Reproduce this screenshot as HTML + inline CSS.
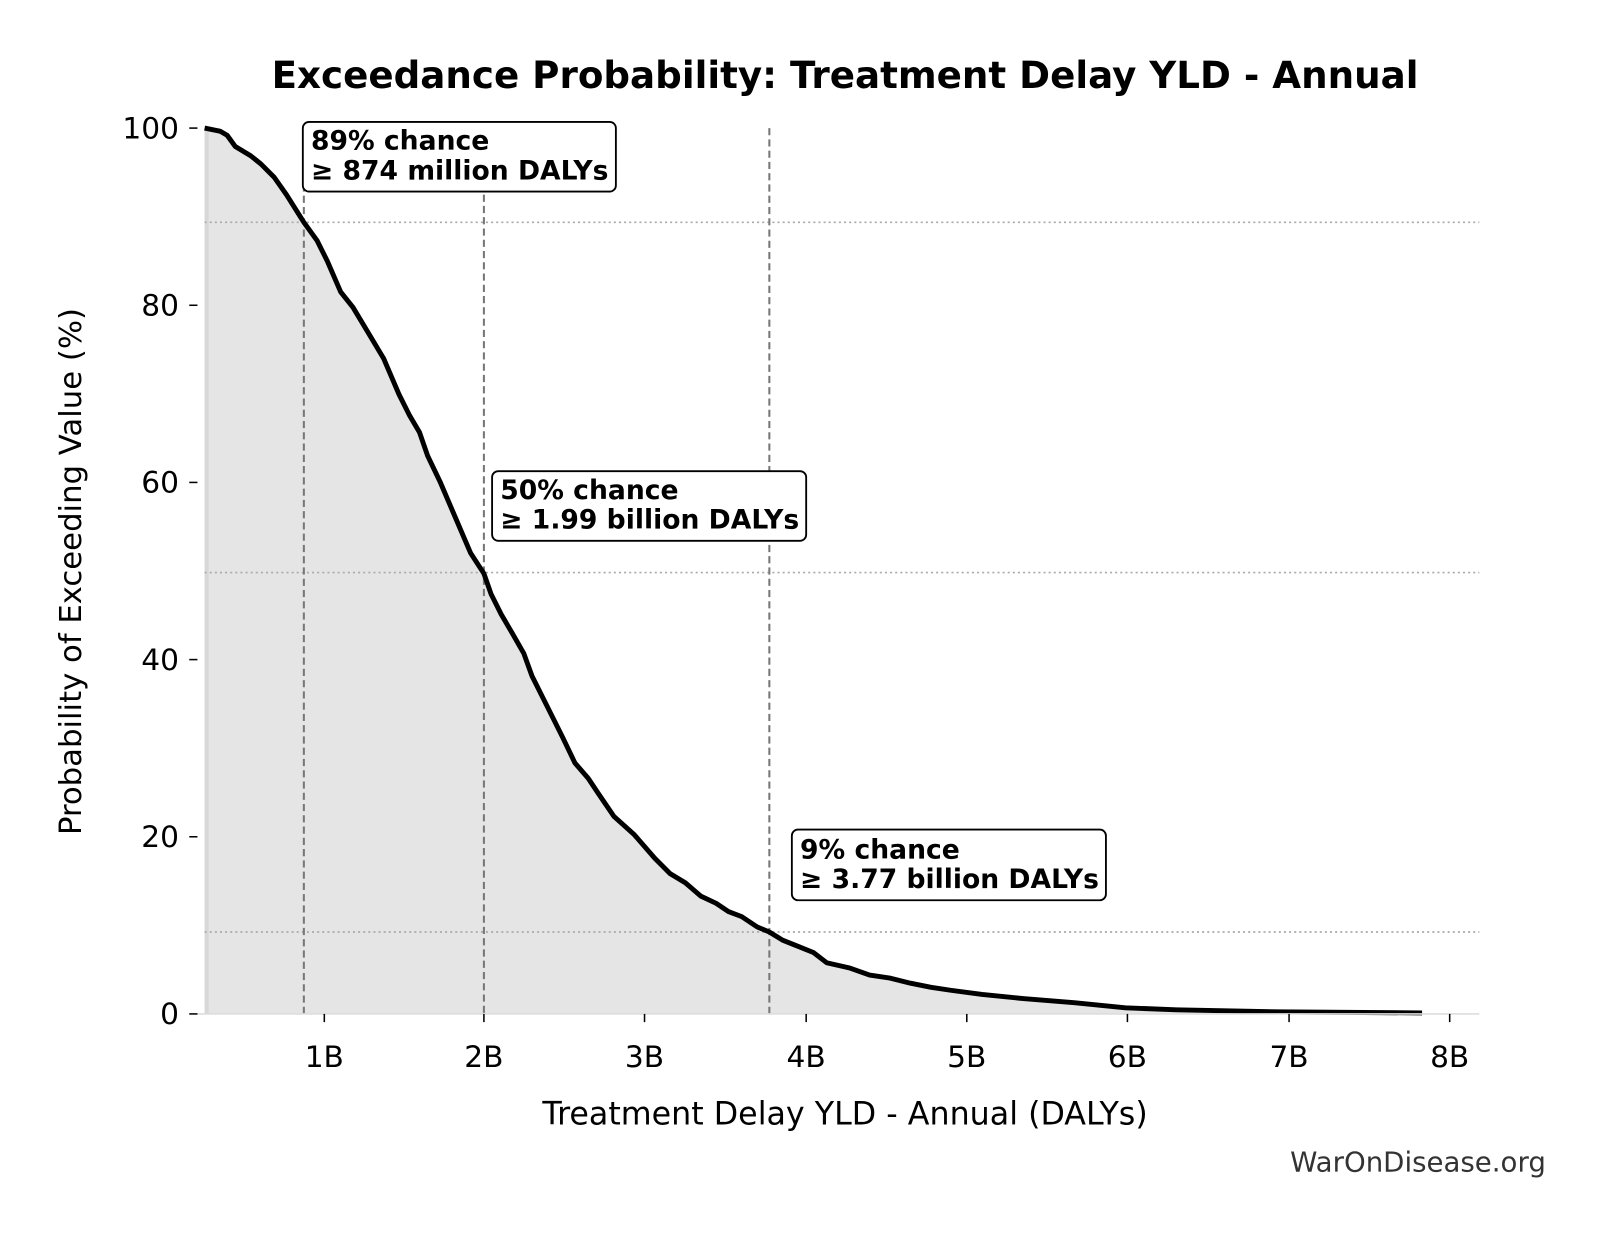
<!DOCTYPE html>
<html><head><meta charset="utf-8"><style>
html,body{margin:0;padding:0;background:#fff;}
svg{display:block;}
text{font-family:"DejaVu Sans","Liberation Sans",sans-serif;}
</style></head><body>
<svg width="1604" height="1234" viewBox="0 0 1560 1200" xmlns="http://www.w3.org/2000/svg">
<rect width="1560" height="1200" fill="#fff"/>
<g transform="scale(0.995,0.996)">
<text x="826" y="86" text-anchor="middle" font-size="36.4" font-weight="bold">Exceedance Probability: Treatment Delay YLD - Annual</text>
<path d="M200,990 L200,125 L215,128 L222,132 L230,143 L245,152 L255,160 L268,173 L280,190 L297,217 L310,235 L320,255 L333,285 L345,300 L360,325 L375,350 L390,385 L400,405 L410,422 L418,445 L430,470 L445,505 L460,540 L473,560 L480,580 L490,600 L500,617 L512,638 L520,660 L535,690 L550,720 L562,745 L575,760 L585,775 L600,797 L620,815 L640,838 L655,853 L670,862 L685,875 L700,882 L712,890 L725,895 L740,905 L752,910 L765,918 L780,924 L795,930 L808,940 L830,945 L850,952 L870,955 L890,960 L910,964 L930,967 L960,971 L1000,975 L1050,979 L1100,984 L1150,986 L1250,988 L1390,989 L1390,990 Z" fill="#e5e5e5"/>
<rect x="200" y="125" width="4" height="865" fill="#d8d8d8"/>
<g stroke="#aaa" stroke-width="1.6" stroke-dasharray="2,3">
<line x1="200" y1="217" x2="1446" y2="217"/>
<line x1="200" y1="559" x2="1446" y2="559"/>
<line x1="200" y1="910" x2="1446" y2="910"/>
</g>
<g stroke="#777" stroke-width="2" stroke-dasharray="7,4">
<line x1="297" y1="125" x2="297" y2="990"/>
<line x1="473" y1="190" x2="473" y2="990"/>
<line x1="752" y1="125" x2="752" y2="990"/>
</g>
<path d="M200,125 L215,128 L222,132 L230,143 L245,152 L255,160 L268,173 L280,190 L297,217 L310,235 L320,255 L333,285 L345,300 L360,325 L375,350 L390,385 L400,405 L410,422 L418,445 L430,470 L445,505 L460,540 L473,560 L480,580 L490,600 L500,617 L512,638 L520,660 L535,690 L550,720 L562,745 L575,760 L585,775 L600,797 L620,815 L640,838 L655,853 L670,862 L685,875 L700,882 L712,890 L725,895 L740,905 L752,910 L765,918 L780,924 L795,930 L808,940 L830,945 L850,952 L870,955 L890,960 L910,964 L930,967 L960,971 L1000,975 L1050,979 L1100,984 L1150,986 L1250,988 L1390,989" fill="none" stroke="#000" stroke-width="4.8" stroke-linejoin="round"/>
<line x1="193" y1="990" x2="1446" y2="990" stroke="#ddd" stroke-width="1.5"/>
<g stroke="#000" stroke-width="1.5">
<line x1="185" y1="125" x2="193" y2="125"/><line x1="185" y1="298" x2="193" y2="298"/><line x1="185" y1="471" x2="193" y2="471"/><line x1="185" y1="644" x2="193" y2="644"/><line x1="185" y1="817" x2="193" y2="817"/><line x1="185" y1="990" x2="193" y2="990"/>
<line x1="317" y1="990" x2="317" y2="998"/><line x1="473" y1="990" x2="473" y2="998"/><line x1="630" y1="990" x2="630" y2="998"/><line x1="788" y1="990" x2="788" y2="998"/><line x1="945" y1="990" x2="945" y2="998"/><line x1="1102" y1="990" x2="1102" y2="998"/><line x1="1260" y1="990" x2="1260" y2="998"/><line x1="1417" y1="990" x2="1417" y2="998"/>
</g>
<g font-size="29" text-anchor="end">
<text x="175" y="135">100</text><text x="175" y="308">80</text><text x="175" y="481">60</text><text x="175" y="654">40</text><text x="175" y="827">20</text><text x="175" y="1000">0</text>
</g>
<g font-size="29" text-anchor="middle">
<text x="317" y="1042">1B</text><text x="473" y="1042">2B</text><text x="630" y="1042">3B</text><text x="788" y="1042">4B</text><text x="945" y="1042">5B</text><text x="1102" y="1042">6B</text><text x="1260" y="1042">7B</text><text x="1417" y="1042">8B</text>
</g>
<text x="826" y="1098" text-anchor="middle" font-size="31">Treatment Delay YLD - Annual (DALYs)</text>
<text transform="translate(79,558) rotate(-90)" text-anchor="middle" font-size="30">Probability of Exceeding Value (%)</text>
<text x="1511" y="1144" text-anchor="end" font-size="27" fill="#333">WarOnDisease.org</text>
<g font-size="26" font-weight="bold">
<rect x="296" y="119" width="306" height="68" rx="6" fill="#fff" stroke="#000" stroke-width="1.8"/>
<text x="304" y="146">89% chance</text><text x="304" y="175">≥ 874 million DALYs</text>
<rect x="481" y="460" width="307" height="68" rx="6" fill="#fff" stroke="#000" stroke-width="1.8"/>
<text x="489" y="487">50% chance</text><text x="489" y="516">≥ 1.99 billion DALYs</text>
<rect x="774" y="810" width="307" height="69" rx="6" fill="#fff" stroke="#000" stroke-width="1.8"/>
<text x="782" y="838">9% chance</text><text x="782" y="867">≥ 3.77 billion DALYs</text>
</g>
</g>
</svg>
</body></html>
